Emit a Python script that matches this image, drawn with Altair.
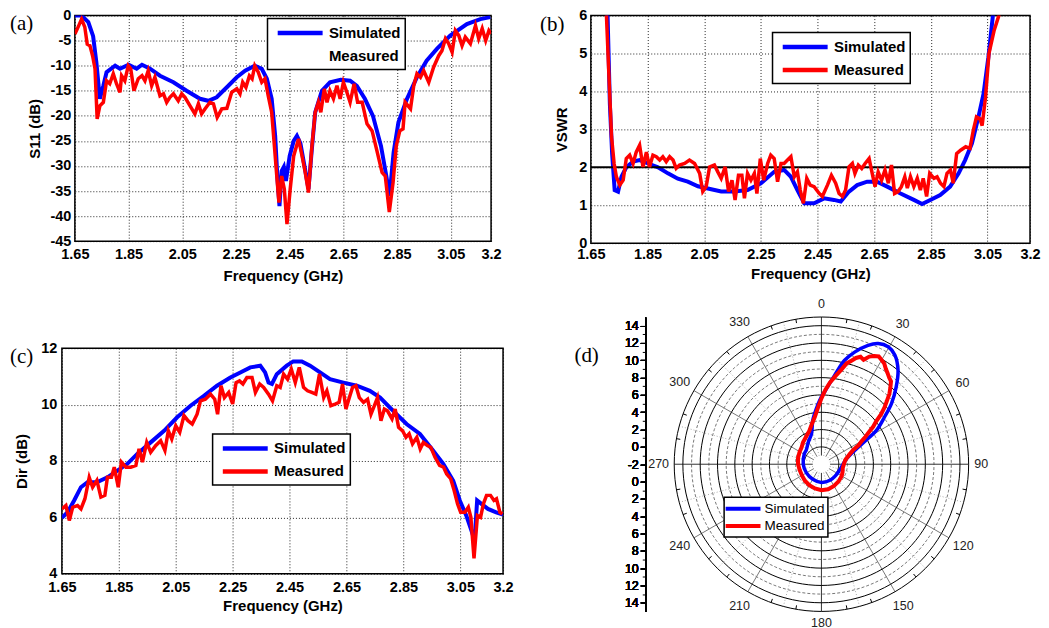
import altair as alt
import pandas as pd

FONT = "Liberation Sans"
SERIF = "Liberation Serif"
BLUE = "#0000ff"
RED = "#ff0000"
SERIES = ["Simulated", "Measured"]
FREQ_TICKS = [1.65, 1.85, 2.05, 2.25, 2.45, 2.65, 2.85, 3.05, 3.2]
S11_TICKS = [-45, -40, -35, -30, -25, -20, -15, -10, -5, 0]
VSWR_TICKS = [0, 1, 2, 3, 4, 5, 6]
DIR_TICKS = [4, 6, 8, 10, 12]
VSWR_LIMIT = [2]

# ---------------- (a) S11 (dB) ----------------
s11_sim = [(1.65,0),(1.675,0),(1.70,-1.3),(1.718,-4.1),(1.73,-9.3),(1.743,-16.6),(1.756,-14),(1.768,-11.3),
           (1.80,-10),(1.818,-10.6),(1.85,-9.8),(1.88,-10.6),(1.90,-9.8),(1.93,-10.6),(1.967,-12),(2.017,-13.3),
           (2.066,-15),(2.116,-16.6),(2.147,-17),(2.178,-16.3),(2.216,-14.3),(2.253,-12.3),(2.284,-11),(2.32,-10),
           (2.346,-10.6),(2.365,-12.6),(2.383,-16.6),(2.396,-24),(2.405,-33),(2.412,-38),(2.42,-31),(2.428,-30.2),
           (2.436,-33),(2.45,-28),(2.465,-25),(2.477,-24),(2.49,-25.5),(2.505,-30),(2.52,-34.6),(2.532,-27),
           (2.545,-19.3),(2.57,-15),(2.60,-13.3),(2.64,-12.8),(2.675,-13),(2.70,-14),(2.73,-16.6),(2.76,-20),
           (2.79,-26),(2.81,-32),(2.822,-36),(2.837,-27.3),(2.855,-21.3),(2.887,-16.6),(2.924,-12.3),(2.96,-9),
           (2.999,-6.6),(3.048,-4),(3.11,-1.7),(3.16,-0.7),(3.197,-0.3)]
s11_meas = [(1.65,-3.7),(1.662,-2.3),(1.675,-0.7),(1.687,-2.3),(1.696,-5.7),(1.706,-6),(1.716,-8),(1.725,-10.6),
            (1.733,-20.6),(1.743,-18),(1.756,-17.3),(1.768,-13),(1.78,-13.6),(1.793,-11.6),(1.805,-13.6),(1.818,-15.3),
            (1.824,-12),(1.836,-13),(1.849,-10),(1.858,-10.6),(1.870,-15),(1.886,-12.6),(1.90,-12),(1.911,-13),
            (1.923,-11),(1.936,-14),(1.948,-12.3),(1.967,-16),(1.98,-15.6),(1.992,-17.3),(2.004,-16.3),(2.017,-15.6),
            (2.035,-17),(2.048,-15.6),(2.06,-16.3),(2.079,-18),(2.097,-19.6),(2.11,-17.6),(2.122,-19.6),(2.135,-18.6),
            (2.153,-17.3),(2.166,-17.6),(2.18,-20.3),(2.197,-18.6),(2.216,-18.5),(2.234,-15.3),(2.253,-14.6),(2.265,-15.6),
            (2.275,-13.3),(2.287,-14.3),(2.30,-12),(2.31,-12.6),(2.32,-10),(2.333,-11.3),(2.346,-13.3),(2.358,-12.6),
            (2.37,-16),(2.383,-19.3),(2.392,-25.3),(2.402,-32),(2.41,-37.3),(2.42,-32),(2.43,-34.6),(2.44,-41.6),
            (2.452,-34.6),(2.465,-28),(2.483,-24.6),(2.496,-28),(2.508,-31.3),(2.52,-35.3),(2.533,-26),(2.545,-19.3),
            (2.557,-17.3),(2.566,-19.3),(2.579,-14.6),(2.589,-17.3),(2.60,-15),(2.613,-16.6),(2.626,-14),(2.638,-16.6),
            (2.65,-13.3),(2.663,-15.3),(2.675,-17.3),(2.69,-13.6),(2.703,-17.3),(2.72,-17.3),(2.738,-21.6),(2.757,-23),
            (2.775,-27),(2.794,-31.3),(2.806,-32),(2.821,-39.2),(2.835,-33.3),(2.847,-26),(2.86,-23),(2.872,-22.6),
            (2.88,-17.3),(2.9,-18.6),(2.912,-14),(2.924,-11.6),(2.937,-12.3),(2.949,-11),(2.968,-13.3),(2.986,-10.3),
            (3.005,-8),(3.017,-7),(3.03,-4.6),(3.042,-5.6),(3.055,-7.3),(3.067,-3),(3.08,-4),(3.092,-6),(3.104,-4.3),
            (3.123,-5.6),(3.142,-2),(3.154,-4.6),(3.167,-2.6),(3.18,-5),(3.192,-3),(3.2,-3.6)]

# ---------------- (b) VSWR ----------------
vswr_sim = [(1.705,6.6),(1.709,6.0),(1.717,3.68),(1.725,2.36),(1.734,1.4),(1.746,1.36),(1.758,1.75),(1.775,2.0),
            (1.799,2.15),(1.822,2.19),(1.852,2.1),(1.887,2.0),(1.922,1.84),(1.957,1.7),(1.992,1.62),(2.028,1.5),
            (2.063,1.44),(2.11,1.36),(2.156,1.36),(2.203,1.4),(2.25,1.58),(2.297,1.88),(2.332,1.93),(2.356,1.75),
            (2.379,1.4),(2.403,1.05),(2.438,1.05),(2.473,1.18),(2.508,1.14),(2.532,1.1),(2.561,1.36),(2.59,1.53),
            (2.625,1.62),(2.66,1.62),(2.696,1.49),(2.743,1.31),(2.79,1.14),(2.819,1.03),(2.848,1.14),(2.883,1.27),
            (2.918,1.49),(2.948,1.84),(2.971,2.19),(2.995,2.63),(3.018,3.33),(3.036,3.94),(3.053,4.9),(3.069,6.0),
            (3.075,6.6)]
vswr_meas = [(1.701,6.6),(1.705,6.0),(1.713,4.55),(1.723,2.8),(1.732,2.1),(1.74,1.75),(1.752,1.53),(1.764,1.66),
             (1.775,2.23),(1.787,2.32),(1.799,2.1),(1.81,2.4),(1.822,2.58),(1.834,2.01),(1.846,2.4),(1.857,2.01),
             (1.869,2.32),(1.881,2.28),(1.893,2.19),(1.904,2.28),(1.916,2.15),(1.928,2.28),(1.94,2.19),(1.951,1.97),
             (1.963,2.06),(1.981,2.1),(1.998,2.19),(2.016,2.1),(2.034,1.84),(2.045,1.36),(2.057,1.49),(2.069,2.01),
             (2.086,2.06),(2.098,1.88),(2.11,1.71),(2.124,2.01),(2.136,1.36),(2.148,1.66),(2.159,1.14),(2.171,1.79),
             (2.183,1.79),(2.192,1.18),(2.203,1.84),(2.215,1.66),(2.227,1.84),(2.236,1.31),(2.248,2.23),(2.26,1.66),
             (2.274,2.1),(2.285,2.32),(2.297,2.23),(2.309,1.62),(2.321,2.1),(2.332,2.1),(2.344,2.19),(2.356,2.28),
             (2.368,1.75),(2.379,1.88),(2.389,1.4),(2.4,1.05),(2.412,1.71),(2.424,1.53),(2.438,1.49),(2.456,1.31),
             (2.467,1.23),(2.485,1.53),(2.499,1.79),(2.514,1.58),(2.526,1.31),(2.538,1.23),(2.549,1.4),(2.561,2.01),
             (2.573,2.1),(2.582,1.84),(2.594,2.06),(2.606,1.97),(2.618,2.1),(2.632,2.23),(2.643,1.84),(2.653,1.49),
             (2.664,1.88),(2.676,1.66),(2.688,1.93),(2.7,1.58),(2.711,2.06),(2.722,1.31),(2.734,1.36),(2.746,1.49),
             (2.758,1.75),(2.767,1.45),(2.778,1.75),(2.79,1.49),(2.802,1.71),(2.813,1.4),(2.823,1.71),(2.835,1.23),
             (2.846,1.84),(2.861,1.71),(2.872,1.75),(2.884,1.58),(2.896,1.49),(2.907,1.84),(2.919,1.93),(2.929,1.58),
             (2.941,2.36),(2.955,2.45),(2.973,2.54),(2.988,2.5),(3.0,2.98),(3.011,3.33),(3.023,3.28),(3.031,3.1),
             (3.043,3.85),(3.055,5.0),(3.073,5.6),(3.09,6.0),(3.095,6.6)]

# ---------------- (c) Dir (dB) ----------------
dir_sim = [(1.65,5.98),(1.67,6.18),(1.693,6.6),(1.717,7.07),(1.74,7.25),(1.775,7.25),(1.81,7.42),(1.845,7.66),
           (1.88,7.9),(1.915,8.25),(1.962,8.66),(2.009,9.07),(2.055,9.55),(2.102,9.96),(2.149,10.31),(2.195,10.67),
           (2.242,10.96),(2.277,11.14),(2.312,11.32),(2.347,11.38),(2.364,11.14),(2.376,10.78),(2.388,10.73),
           (2.405,11.08),(2.44,11.38),(2.463,11.53),(2.493,11.53),(2.522,11.38),(2.557,11.14),(2.592,10.9),
           (2.639,10.78),(2.686,10.67),(2.732,10.49),(2.768,10.25),(2.814,9.78),(2.861,9.31),(2.908,8.96),
           (2.954,8.37),(2.99,7.9),(3.025,7.3),(3.048,6.6),(3.071,6.06),(3.089,5.53),(3.1,5.18),(3.109,6.6),
           (3.124,6.48),(3.147,6.3),(3.176,6.18),(3.2,6.1)]
dir_meas = [(1.65,6.3),(1.664,6.42),(1.676,5.89),(1.688,6.36),(1.705,6.42),(1.717,6.3),(1.731,6.66),(1.746,7.42),
            (1.758,7.07),(1.773,7.31),(1.787,6.72),(1.801,6.78),(1.81,7.42),(1.824,7.42),(1.834,7.78),(1.848,7.07),
            (1.859,7.96),(1.875,7.78),(1.892,7.78),(1.91,7.84),(1.921,8.43),(1.933,7.96),(1.948,8.66),(1.962,8.31),
            (1.98,8.55),(1.997,8.72),(2.012,8.37),(2.024,9.07),(2.036,8.78),(2.05,9.25),(2.064,9.02),(2.079,9.61),
            (2.093,9.43),(2.108,9.31),(2.125,9.66),(2.137,10.13),(2.154,10.19),(2.172,10.37),(2.187,10.19),
            (2.197,9.66),(2.209,10.67),(2.221,10.25),(2.236,10.43),(2.25,10.02),(2.262,10.78),(2.274,10.84),
            (2.286,10.73),(2.3,10.96),(2.318,10.96),(2.33,10.43),(2.345,10.73),(2.359,10.61),(2.376,10.37),
            (2.39,10.13),(2.405,10.67),(2.417,10.61),(2.429,11.08),(2.443,10.9),(2.456,11.26),(2.47,10.78),
            (2.484,11.32),(2.499,10.61),(2.513,10.49),(2.528,10.43),(2.542,10.37),(2.555,11.08),(2.57,10.25),
            (2.581,10.49),(2.595,9.96),(2.61,10.02),(2.624,10.08),(2.636,10.73),(2.648,9.84),(2.66,10.25),
            (2.671,10.61),(2.683,10.67),(2.695,10.25),(2.71,10.08),(2.724,10.19),(2.736,9.66),(2.748,9.96),
            (2.759,10.25),(2.771,9.43),(2.783,9.84),(2.794,9.78),(2.81,9.49),(2.821,9.84),(2.833,9.19),(2.847,9.07),
            (2.859,8.84),(2.87,8.96),(2.882,8.61),(2.897,8.84),(2.909,8.43),(2.92,8.66),(2.934,8.55),(2.946,8.49),
            (2.961,8.13),(2.977,7.84),(2.991,7.78),(3.002,7.54),(3.016,7.37),(3.028,6.96),(3.04,6.48),(3.051,6.18),
            (3.066,6.18),(3.078,6.36),(3.087,6.0),(3.098,4.55),(3.11,6.06),(3.121,6.0),(3.131,6.48),(3.142,6.78),
            (3.156,6.78),(3.168,6.6),(3.177,6.66),(3.189,6.18),(3.198,6.12)]

# ---------------- (d) polar pattern: (angle deg clockwise from 0, dB) ----------------
polar_sim = [(0,5.8),(3,6.5),(8.5,8.4),(12.6,10.3),(16.5,11.5),(21.4,12.75),(25.2,13.4),(29.6,13.6),(33.9,13.2),
             (39.2,12.0),(44.1,10.4),(49.1,8.7),(53.2,7.1),(58.3,5.5),(61.2,4.1),(67.2,2.2),(77,1.0),(90,0.5),
             (108,0.2),(130,0.1),(150,0.1),(180,0.1),(210,0.0),(240,0.0),(270,0.1),(300,0.3),(313,0.4),(330,1.0),
             (342,1.7),(349,3.2),(357,5.0),(360,5.8)]
polar_meas = [(0,5.6),(3,6.6),(6,7.5),(9,8.3),(12,9.2),(14,10.0),(16,10.4),(18,10.9),(20,11.2),(22,11.0),(24,11.6),
              (26,11.9),(28,12.1),(30,11.9),(32,11.7),(34,11.3),(36,11.0),(38,10.7),(40,10.5),(42,9.9),(44,9.3),
              (46,8.5),(48,7.8),(50,7.0),(52,6.0),(54,5.4),(56,4.6),(58,4.0),(60,3.4),(63,2.8),(66,2.0),(70,1.5),
              (75,1.1),(80,0.8),(90,0.6),(100,0.5),(110,0.6),(120,0.7),(135,0.8),(150,0.9),(165,1.0),(180,1.0),
              (195,0.9),(210,0.8),(225,0.7),(240,0.6),(255,0.6),(270,0.7),(285,0.8),(300,0.9),(310,1.0),(320,1.3),
              (330,1.6),(340,2.1),(346,2.7),(352,3.5),(356,4.4),(360,5.6)]
POLAR_CENTER_DB = -2
polar_solid_db = [0, 2, 4, 6, 8, 10, 12, 14, 15]
polar_dashed_db = [1, 3, 5, 7, 9, 11, 13]
spoke_major = [0, 90, 180, 270]
spoke_mid = [30, 60, 120, 150, 210, 240, 300, 330]
spoke_minor = [15, 45, 75, 105, 135, 165, 195, 225, 255, 285, 315, 345]
rim_ticks = [10, 20, 40, 50, 70, 80, 100, 110, 130, 140, 160, 170, 190, 200, 220, 230, 250, 260,
             280, 290, 310, 320, 340, 350]
angle_labels = [0, 30, 60, 90, 120, 150, 180, 210, 240, 270, 300, 330]
angle_label_r = [18.45, 18.75, 18.8, 18.45, 18.9, 18.9, 18.35, 18.9, 18.9, 18.8, 18.9, 18.9]
radial_ticks = [-16, -14, -12, -10, -8, -6, -4, -2, 0, 2, 4, 6, 8, 10, 12, 14, 16]
radial_minor_ticks = [-15, -13, -11, -9, -7, -5, -3, -1, 1, 3, 5, 7, 9, 11, 13, 15]


def legend(x, y, big=True):
    if big:
        return alt.Legend(title=None, orient="none", legendX=x, legendY=y, direction="vertical",
                          fillColor="white", strokeColor="black", padding=4.5, rowPadding=4,
                          symbolType="M-0.57,0L5.43,0", symbolSize=225, symbolStrokeWidth=4.5,
                          symbolOpacity=1, labelOffset=37, labelFont=FONT, labelFontSize=15,
                          labelFontWeight="bold", labelColor="black")
    return alt.Legend(title=None, orient="none", legendX=x, legendY=y, direction="vertical",
                      fillColor="white", strokeColor="black", padding=2.5, rowPadding=0.5,
                      symbolType="M-1.48,0L3.7,0", symbolSize=182, symbolStrokeWidth=4,
                      symbolOpacity=1, labelOffset=20, labelFont=FONT, labelFontSize=13.5,
                      labelFontWeight="normal", labelColor="black")


def freq_panel(sim, meas, ydom, yticks, ytitle, w, h, leg_xy, label, lab_xy,
               ylp, ytp, xlp, xtp, meas_in_legend=True, ref=None):
    xs = alt.Scale(domain=[1.65, 3.2], nice=False, zero=False)
    ys = alt.Scale(domain=ydom, nice=False, zero=False)
    xax = alt.Axis(values=FREQ_TICKS, labelExpr="'' + datum.value", title="Frequency (GHz)",
                   grid=True, labelPadding=xlp, titlePadding=xtp)
    yax = alt.Axis(values=yticks, labelExpr="'' + datum.value", title=ytitle,
                   grid=True, labelPadding=ylp, titlePadding=ytp)
    cs = alt.Scale(domain=SERIES, range=[BLUE, RED if meas_in_legend else "white"])
    leg = legend(*leg_xy)
    dsim = pd.DataFrame(sim, columns=["f", "v"]).assign(s="Simulated")
    dmeas = pd.DataFrame(meas, columns=["f", "v"]).assign(s="Measured")
    ex = alt.X("f:Q", scale=xs, axis=xax)
    ey = alt.Y("v:Q", scale=ys, axis=yax)
    l_sim = alt.Chart(dsim).mark_line(strokeWidth=4, clip=True).encode(
        x=ex, y=ey, color=alt.Color("s:N", scale=cs, legend=leg))
    mcol = alt.Color("s:N", scale=cs, legend=leg) if meas_in_legend else alt.value(RED)
    l_meas = alt.Chart(dmeas).mark_line(strokeWidth=3.5, clip=True).encode(x=ex, y=ey, color=mcol)
    layers = [l_sim]
    if ref is not None:
        layers.append(alt.Chart(pd.DataFrame({"v": ref})).mark_rule(color="black", strokeWidth=2)
                      .encode(y=ey))
    layers.append(l_meas)
    layers.append(alt.Chart(pd.DataFrame({"t": [label]})).mark_text(
        align="left", baseline="middle", font=SERIF, fontSize=21, color="black").encode(
        x=alt.value(lab_xy[0]), y=alt.value(lab_xy[1]), text="t:N"))
    return alt.layer(*layers).properties(width=w, height=h)


panel_a = freq_panel(s11_sim, s11_meas, [-45, 0], S11_TICKS, "S11 (dB)", 417, 226, (193, 3), "(a)",
                     (-65, 8), 4, 7, 6, 8, meas_in_legend=False)
panel_b = freq_panel(vswr_sim, vswr_meas, [0, 6], VSWR_TICKS, "VSWR", 440, 228, (182, 17), "(b)",
                     (-51, 9.5), 4, 9, 4.5, 5.5, ref=VSWR_LIMIT)
panel_c = freq_panel(dir_sim, dir_meas, [4, 12], DIR_TICKS, "Dir (dB)", 442, 226, (151, 86), "(c)",
                     (-52, 9), 5, 11, 6.5, 4.5)

# ---------------- polar panel ----------------
pxs = alt.Scale(domain=[-17, 17], nice=False, zero=False)
pys = alt.Scale(domain=[-17, 17], nice=False, zero=False)
pax = alt.Axis(values=radial_ticks, labelExpr="'' + (abs(datum.value) - 2)", title=None, grid=False,
               orient="left", offset=29, domain=True, domainColor="black", domainWidth=1.2, ticks=True,
               tickColor="black", tickSize=5, tickWidth=1, labelFont=FONT, labelFontSize=12.5,
               labelFontWeight="normal", labelPadding=2)
pax_minor = alt.Axis(values=radial_minor_ticks, labels=False, title=None, grid=False, orient="left",
                     offset=29, domain=False, ticks=True, tickColor="black", tickSize=3, tickWidth=1)
PX = alt.X("px:Q", scale=pxs, axis=None)
PY = alt.Y("py:Q", scale=pys, axis=pax)
to_xy = dict(px="(datum.db - (%d)) * sin(datum.a * PI / 180)" % POLAR_CENTER_DB,
             py="(datum.db - (%d)) * cos(datum.a * PI / 180)" % POLAR_CENTER_DB)


def circles(dbs):
    return pd.DataFrame([{"g": d, "db": d, "a": a} for d in dbs for a in range(0, 361, 3)])


def ray_xy(r1, r2):
    return dict(px="%g * sin(datum.a * PI / 180)" % r1, py="%g * cos(datum.a * PI / 180)" % r1,
                px2="%g * sin(datum.a * PI / 180)" % r2, py2="%g * cos(datum.a * PI / 180)" % r2)


g_dashed = alt.Chart(circles(polar_dashed_db)).transform_calculate(**to_xy).mark_line(
    color="#555", strokeWidth=0.8, strokeDash=[3, 2]).encode(x=PX, y=PY, detail="g:N", order="a:Q")
g_solid = alt.Chart(circles(polar_solid_db)).transform_calculate(**to_xy).mark_line(
    color="black", strokeWidth=1).encode(x=PX, y=PY, detail="g:N", order="a:Q")


def ray_layer(angles, r1, r2, color, dash=None):
    kw = dict(color=color, strokeWidth=1)
    if dash:
        kw["strokeDash"] = dash
    return alt.Chart(pd.DataFrame({"a": angles})).transform_calculate(**ray_xy(r1, r2)).mark_rule(**kw).encode(
        x=PX, y=PY, x2="px2:Q", y2="py2:Q")


sp_minor = ray_layer(spoke_minor, 1, 17, "#aaa", [1, 2])
sp_mid = ray_layer(spoke_mid, 1, 17, "#777")
sp_major = ray_layer(spoke_major, 1, 17, "#333")
sp_rim = ray_layer(rim_ticks, 16.55, 17, "black")

minor_axis_layer = alt.Chart(pd.DataFrame({"px": [0], "py": [0]})).mark_point(opacity=0).encode(
    x=PX, y=alt.Y("py:Q", scale=pys, axis=pax_minor))

pcs = alt.Scale(domain=SERIES, range=[BLUE, RED])
pleg = legend(50, 180.5, big=False)
dps = pd.DataFrame(polar_sim, columns=["a", "db"]).assign(s="Simulated")
dps["i"] = range(len(dps))
dpm = pd.DataFrame(polar_meas, columns=["a", "db"]).assign(s="Measured")
dpm["i"] = range(len(dpm))
p_sim = alt.Chart(dps).transform_calculate(**to_xy).mark_line(strokeWidth=3.5, interpolate="catmull-rom").encode(
    x=PX, y=PY, order="i:Q", color=alt.Color("s:N", scale=pcs, legend=pleg))
p_meas = alt.Chart(dpm).transform_calculate(**to_xy).mark_line(strokeWidth=4).encode(
    x=PX, y=PY, order="i:Q", color=alt.Color("s:N", scale=pcs, legend=pleg))

lab_df = pd.DataFrame({"a": angle_labels, "r": angle_label_r, "t": [str(a) for a in angle_labels]})
p_labels = alt.Chart(lab_df).transform_calculate(
    px="datum.r * sin(datum.a * PI / 180)", py="datum.r * cos(datum.a * PI / 180)").mark_text(
    font=FONT, fontSize=12.5, color="#222", align="center", baseline="middle").encode(x=PX, y=PY, text="t:N")

d_label = alt.Chart(pd.DataFrame({"t": ["(d)"]})).mark_text(
    align="left", baseline="middle", font=SERIF, fontSize=21, color="black").encode(
    x=alt.value(-100), y=alt.value(39.5), text="t:N")

panel_d = alt.layer(g_dashed, sp_minor, sp_mid, sp_major, sp_rim, g_solid, p_sim, p_meas, p_labels,
                    d_label, minor_axis_layer).resolve_axis(y="independent").properties(
    width=295, height=295, view=alt.ViewBackground(stroke="transparent"))


def spacer():
    return alt.Chart(pd.DataFrame({"t": [""]})).mark_text(opacity=0).encode(text="t:N").properties(
        width=1, height=1, view=alt.ViewBackground(stroke="transparent"))


def indep(c):
    return c.resolve_scale(color="independent").resolve_legend(color="independent")


row1 = indep(alt.hconcat(spacer(), indep(alt.hconcat(panel_a, panel_b, spacing=37)), spacing=0))
c_col = indep(alt.vconcat(spacer(), panel_c, spacing=42.25))
d_col = indep(alt.vconcat(spacer(), panel_d, spacing=0))
row2 = indep(alt.hconcat(spacer(), indep(alt.hconcat(c_col, d_col, spacing=59.5)), spacing=0))

chart = indep(alt.vconcat(row1, row2, spacing=0)).properties(
    padding={"left": -2, "top": -2, "right": 0, "bottom": 0}).configure_view(
    stroke="black", strokeWidth=1.5).configure_legend(strokeWidth=1.5).configure_axis(
    labelFont=FONT, labelFontSize=14.5, labelFontWeight="bold", labelColor="black",
    titleFont=FONT, titleFontSize=15, titleFontWeight="bold", titleColor="black",
    gridColor="black", gridDash=[1, 2], gridWidth=1, gridOpacity=0.85,
    domain=False, ticks=False, labelFlush=False, labelOverlap=False)

chart.save("out.html", embed_options={"renderer": "svg", "actions": False})
